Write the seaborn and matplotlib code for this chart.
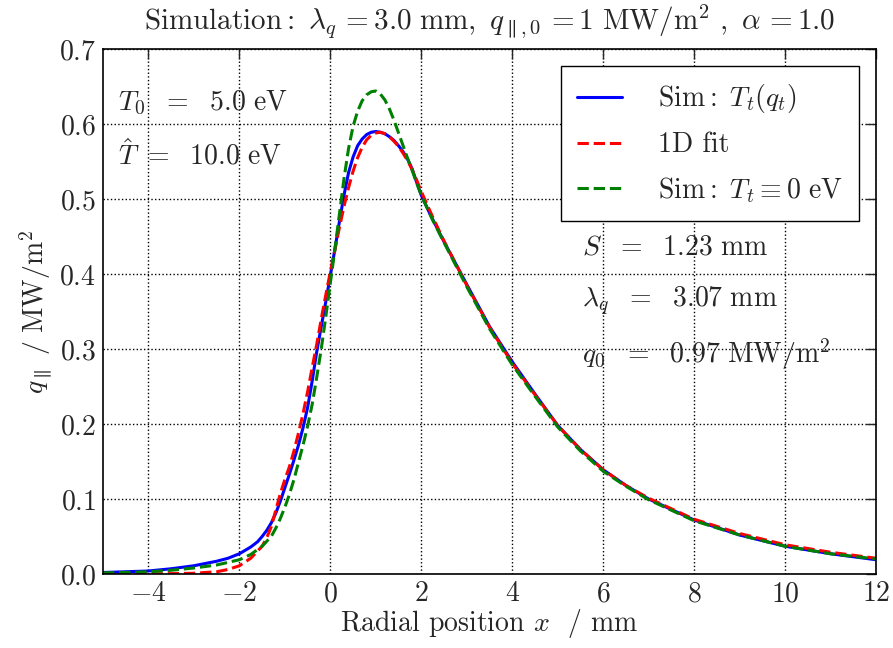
import matplotlib
matplotlib.use("Agg")
import matplotlib.pyplot as plt
import seaborn as sns
import numpy as np

# ---- data ----
x_blue = [-5, -4.5, -4, -3.5, -3, -2.5, -2.25, -2, -1.75, -1.6, -1.5, -1.4, -1.3, -1.2,
          -1.1, -1.0, -0.9, -0.8, -0.7, -0.6, -0.5, -0.4, -0.3, -0.2, -0.1, 0.0, 0.1,
          0.2, 0.3, 0.4, 0.5, 0.6, 0.7, 0.8, 0.9, 1.0, 1.1, 1.2, 1.3, 1.4, 1.5, 1.6, 1.7,
          1.8, 1.9, 2.0, 2.1, 2.2, 2.35, 2.5, 3.0, 3.5, 4.0, 4.5, 5.0, 5.5, 6.0, 6.5, 7.0,
          8.0, 9.0, 10.0, 11.0, 12.0]
y_blue = [0.002, 0.003, 0.004, 0.007, 0.011, 0.017, 0.021, 0.027, 0.036, 0.043, 0.050,
          0.058, 0.068, 0.081, 0.097, 0.115, 0.133, 0.152, 0.172, 0.195, 0.222, 0.257,
          0.296, 0.330, 0.363, 0.398, 0.433, 0.470, 0.505, 0.535, 0.556, 0.571, 0.580,
          0.586, 0.589, 0.590, 0.589, 0.587, 0.583, 0.578, 0.571, 0.563, 0.553, 0.540,
          0.522, 0.505, 0.492, 0.479, 0.461, 0.443, 0.386, 0.330, 0.283, 0.240, 0.198,
          0.166, 0.139, 0.118, 0.100, 0.072, 0.052, 0.037, 0.027, 0.019]

x_red = [-5, -4.5, -4, -3.5, -3, -2.5, -2.25, -2, -1.75, -1.5, -1.4, -1.3, -1.2, -1.1,
         -1.0, -0.9, -0.8, -0.7, -0.6, -0.5, -0.4, -0.3, -0.2, -0.1, 0.0, 0.1, 0.2, 0.3,
         0.4, 0.5, 0.6, 0.7, 0.8, 0.9, 1.0, 1.1, 1.2, 1.3, 1.4, 1.5, 1.6, 1.7, 1.8, 1.9,
         2.0, 2.25, 2.5, 3.0, 3.5, 4.0, 4.5, 5.0, 5.5, 6.0, 6.5, 7.0, 8.0, 9.0, 10.0,
         11.0, 12.0]
y_red = [0.0, 0.0, 0.0002, 0.0005, 0.001, 0.003, 0.006, 0.011, 0.021, 0.037, 0.048,
         0.063, 0.085, 0.107, 0.126, 0.143, 0.164, 0.188, 0.214, 0.243, 0.275, 0.306,
         0.340, 0.372, 0.403, 0.432, 0.462, 0.490, 0.515, 0.537, 0.555, 0.569, 0.579,
         0.585, 0.588, 0.589, 0.587, 0.583, 0.577, 0.570, 0.561, 0.551, 0.539, 0.525,
         0.510, 0.476, 0.444, 0.385, 0.329, 0.281, 0.239, 0.198, 0.166, 0.139, 0.118,
         0.101, 0.073, 0.054, 0.039, 0.029, 0.021]

x_green = [-5, -4.5, -4, -3.5, -3, -2.5, -2, -1.75, -1.5, -1.3, -1.2, -1.1, -1.0, -0.9,
           -0.8, -0.7, -0.6, -0.5, -0.4, -0.3, -0.2, -0.1, 0.0, 0.1, 0.2, 0.3, 0.4, 0.5,
           0.6, 0.7, 0.8, 0.9, 1.0, 1.1, 1.2, 1.3, 1.4, 1.5, 1.6, 1.7, 1.8, 1.9, 2.0,
           2.25, 2.5, 3.0, 3.5, 4.0, 4.5, 5.0, 5.5, 6.0, 6.5, 7.0, 8.0, 9.0, 10.0, 11.0,
           12.0]
y_green = [0.0015, 0.002, 0.003, 0.005, 0.008, 0.012, 0.019, 0.026, 0.037, 0.050, 0.061,
           0.074, 0.089, 0.106, 0.126, 0.149, 0.172, 0.197, 0.226, 0.262, 0.300, 0.343,
           0.388, 0.433, 0.480, 0.527, 0.567, 0.597, 0.617, 0.631, 0.639, 0.643, 0.644,
           0.640, 0.632, 0.620, 0.605, 0.588, 0.571, 0.554, 0.538, 0.521, 0.505, 0.472,
           0.442, 0.383, 0.327, 0.279, 0.237, 0.196, 0.164, 0.137, 0.117, 0.099, 0.071,
           0.052, 0.037, 0.027, 0.020]

labels = [r'$\mathrm{Sim}:\ T_t(q_t)$', '1D fit', r'$\mathrm{Sim}:\ T_t\equiv 0\ \mathrm{eV}$']
x_ticks = [-4, -2, 0, 2, 4, 6, 8, 10, 12]
y_ticks = [0.0, 0.1, 0.2, 0.3, 0.4, 0.5, 0.6, 0.7]

FS = 20

sns.set_style("white")
plt.rcParams.update({
    'font.family': 'serif',
    'font.serif': ['cmr10', 'DejaVu Serif'],
    'mathtext.fontset': 'cm',
    'axes.formatter.use_mathtext': True,
    'axes.unicode_minus': True,
    'font.size': FS,
})

fig = plt.figure(figsize=(8.93, 6.48), dpi=100)
ax = fig.add_axes([0.1153, 0.1142, 0.981 - 0.1153, 0.9244 - 0.1142])

sns.lineplot(x=x_blue, y=y_blue, ax=ax, color='#0000ff', lw=2.2, label=labels[0])
sns.lineplot(x=x_red, y=y_red, ax=ax, color='#ff0000', lw=2.2, linestyle='--', label=labels[1])
sns.lineplot(x=x_green, y=y_green, ax=ax, color='#008000', lw=2.2, linestyle='--', label=labels[2])

ax.set_xlim(-5, 12)
ax.set_ylim(0, 0.7)
ax.set_xticks(x_ticks)
ax.set_yticks(y_ticks)
ax.set_xticklabels([f'${t}$' for t in x_ticks])
ax.set_yticklabels([f'${t:.1f}$' for t in y_ticks])
ax.grid(True, color='black', linestyle=':', linewidth=1.0)
ax.tick_params(direction='in', length=7, width=1, top=True, right=True,
               labelsize=FS, pad=5)
for s in ax.spines.values():
    s.set_color('black')
    s.set_linewidth(1.2)

ax.set_title(r'$\mathrm{Simulation}:\ \lambda_q\,=3.0\ \mathrm{mm},\ q_{\parallel,0}\,=1\ \mathrm{MW/m^2}\ ,\ \alpha\,=1.0$',
             fontsize=21, pad=14)
ax.set_xlabel(r'Radial position $x$  / mm', fontsize=FS, labelpad=0)
ax.set_ylabel(r'$q_\parallel\ /\ \mathrm{MW/m^2}$', fontsize=FS, labelpad=3)

ax.text(-4.67, 0.628, r'$T_0\ \ =\ \ 5.0\ \mathrm{eV}$', fontsize=FS, va='center', ha='left')
ax.text(-4.67, 0.559, r'$\hat{T}\ =\ \ 10.0\ \mathrm{eV}$', fontsize=FS, va='center', ha='left')
ax.text(5.53, 0.435, r'$S\ \ =\ \ 1.23\ \mathrm{mm}$', fontsize=FS, va='center', ha='left')
ax.text(5.53, 0.363, r'$\lambda_q\ \ =\ \ 3.07\ \mathrm{mm}$', fontsize=FS, va='center', ha='left')
ax.text(5.53, 0.293, r'$q_0\ \ =\ \ 0.97\ \mathrm{MW/m^2}$', fontsize=FS, va='center', ha='left')

leg = ax.legend(loc='upper right', fancybox=False, framealpha=1, edgecolor='black',
                fontsize=FS, handlelength=1.6, handletextpad=1.3, labelspacing=0.6,
                borderaxespad=0.6, borderpad=0.6)
leg.get_frame().set_linewidth(1.0)

fig.savefig('out.png', dpi=100)
